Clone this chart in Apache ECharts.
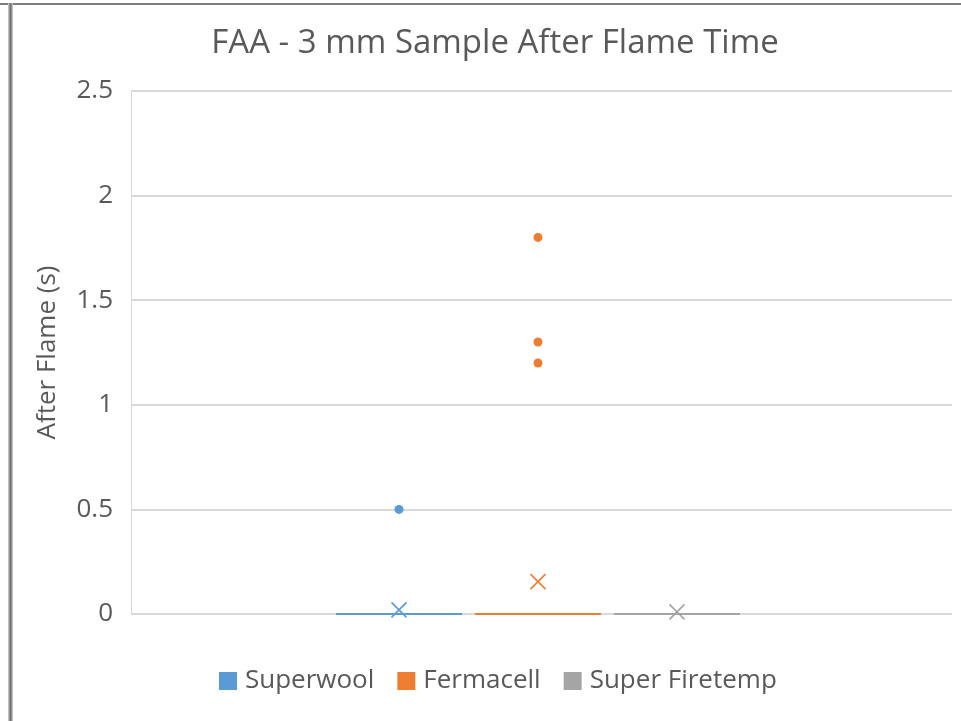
<!DOCTYPE html>
<html>
<head>
<meta charset="utf-8">
<script src="https://cdn.jsdelivr.net/npm/echarts@6/dist/echarts.min.js"></script>
<style>html,body{margin:0;padding:0;background:#fff}#c{width:961px;height:721px}</style>
</head>
<body>
<div id="c"></div>
<script>
// ---- data ----
const titleText = 'FAA - 3 mm Sample After Flame Time';
const yAxisName = 'After Flame (s)';
const seriesNames = ['Superwool', 'Fermacell', 'Super Firetemp'];
// box stats: [min, Q1, median, Q3, max]
const superwoolBox = [0, 0, 0, 0, 0];
const fermacellBox = [0, 0, 0, 0, 0];
const superFiretempBox = [0, 0, 0, 0, 0];
const superwoolOutliers = [0.5];
const fermacellOutliers = [1.8, 1.3, 1.2];
const superFiretempOutliers = [];
const superwoolMean = [0.02];
const fermacellMean = [0.155];
const superFiretempMean = [0.01];
const yTicks = [0, 0.5, 1, 1.5, 2, 2.5];

const colors = ['#5B9BD5', '#ED7D31', '#A5A5A5'];
const boxes = [superwoolBox, fermacellBox, superFiretempBox];
const outliers = [superwoolOutliers, fermacellOutliers, superFiretempOutliers];
const means = [superwoolMean, fermacellMean, superFiretempMean];

const textColor = '#595959';
const gridColor = '#D9D9D9';
const font = 'Open Sans';

// layout of the box group (pixels)
const groupCenter = 538;
const boxSpacing = 139;
const groupWidth = boxSpacing * seriesNames.length;

const chart = echarts.init(document.getElementById('c'));

const series = [{
  name: 'boxes', type: 'boxplot', xAxisIndex: 1, yAxisIndex: 1,
  data: boxes.map((b, i) => ({
    value: b,
    itemStyle: { color: colors[i], borderColor: colors[i], borderWidth: 2 }
  })),
  boxWidth: [126, 126],
  silent: true, z: 2
}];
seriesNames.forEach((name, i) => {
  series.push({
    name: name, type: 'scatter', xAxisIndex: 1, yAxisIndex: 1,
    data: outliers[i].map(v => [name, v]),
    symbol: 'circle', symbolSize: 9,
    itemStyle: { color: colors[i], opacity: 1 }, silent: true, z: 3
  });
});
seriesNames.forEach((name, i) => {
  series.push({
    name: name, type: 'scatter', xAxisIndex: 1, yAxisIndex: 1,
    data: means[i].map(v => [name, v]),
    symbol: 'path://M0,0L10,10M10,0L0,10', symbolSize: 15,
    itemStyle: { color: 'transparent', borderColor: colors[i], borderWidth: 1.6, opacity: 1 },
    silent: true, z: 4
  });
});

chart.setOption({
  animation: false,
  backgroundColor: '#fff',
  color: colors,
  title: {
    text: titleText, left: 490, textAlign: 'center', top: 22,
    textStyle: { fontFamily: font, fontSize: 33, fontWeight: 'normal', color: textColor }
  },
  legend: {
    data: seriesNames, left: 214, top: 663, icon: 'rect',
    itemWidth: 18, itemHeight: 18, itemGap: 23,
    itemStyle: { borderWidth: 0, opacity: 1 },
    textStyle: { fontFamily: font, fontSize: 26, color: textColor, padding: [0, 0, 0, 3] }
  },
  grid: [
    { left: 131, right: 9, top: 91, bottom: 107 },
    { left: groupCenter - groupWidth / 2, width: groupWidth, top: 91, bottom: 107 }
  ],
  xAxis: [
    { type: 'category', gridIndex: 0, data: [''], show: false },
    { type: 'category', gridIndex: 1, data: seriesNames, show: false }
  ],
  yAxis: [
    {
      type: 'value', gridIndex: 0, min: yTicks[0], max: yTicks[yTicks.length - 1], interval: 0.5,
      name: yAxisName, nameLocation: 'middle', nameGap: 70,
      nameTextStyle: { fontFamily: font, fontSize: 26, color: textColor },
      axisLine: { show: true, lineStyle: { color: gridColor, width: 1 } },
      axisTick: { show: false },
      axisLabel: { fontFamily: font, fontSize: 26, color: textColor, margin: 18 },
      splitLine: { lineStyle: { color: gridColor, width: 2 } }
    },
    {
      type: 'value', gridIndex: 1, min: yTicks[0], max: yTicks[yTicks.length - 1], show: false,
      splitLine: { show: false }
    }
  ],
  graphic: [
    { type: 'rect', shape: { x: 0, y: 3, width: 961, height: 2 }, style: { fill: '#7F7F7F' }, silent: true },
    { type: 'rect', shape: { x: 8, y: 3, width: 5, height: 718 }, style: { fill: '#BFBFBF' }, silent: true },
    { type: 'rect', shape: { x: 9.5, y: 3, width: 2, height: 718 }, style: { fill: '#6F6F6F' }, silent: true }
  ],
  series: series
});
</script>
</body>
</html>
